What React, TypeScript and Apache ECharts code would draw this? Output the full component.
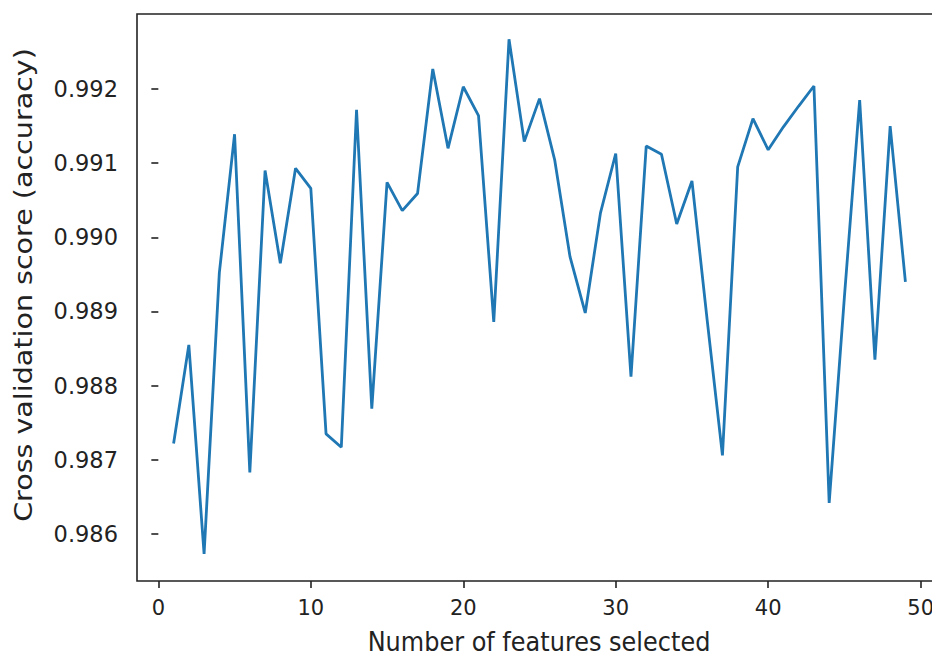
import React, { useEffect, useRef } from "react";
import * as echarts from "echarts";

const featureCounts: number[] = Array.from({ length: 49 }, (_, i) => i + 1);
const cvScores: number[] = [
  0.98722, 0.98855, 0.98573, 0.98952, 0.99139, 0.98683, 0.9909, 0.98965, 0.99093, 0.99066,
  0.98735, 0.98717, 0.99172, 0.98769, 0.99074, 0.99036, 0.99059, 0.99227, 0.9912, 0.99203,
  0.99164, 0.98886, 0.99267, 0.99129, 0.99187, 0.99104, 0.98974, 0.98898, 0.99033, 0.99113,
  0.98812, 0.99123, 0.99112, 0.99018, 0.99076, 0.98888, 0.98706, 0.99095, 0.9916, 0.99118,
  0.99149, 0.99177, 0.99204, 0.98642, 0.9892, 0.99185, 0.98835, 0.9915, 0.9894,
];
const xTicks: number[] = [0, 10, 20, 30, 40, 50];
const yTicks: number[] = [0.986, 0.987, 0.988, 0.989, 0.99, 0.991, 0.992];
const xTitle = "Number of features selected";
const yTitle = "Cross validation score (accuracy)";

const FONT = "DejaVu Sans";

export default function App() {
  const ref = useRef<HTMLDivElement>(null);
  useEffect(() => {
    if (!ref.current) return;
    const chart = echarts.init(ref.current, null, { renderer: "svg" });
    const data = featureCounts.map((x, i) => [x, cvScores[i]]);
    chart.setOption({
      animation: false,
      backgroundColor: "#ffffff",
      grid: {
        left: 137,
        top: 14,
        bottom: 78,
        right: -10,
        outerBoundsMode: "none",
        containLabel: false,
        show: true,
        borderColor: "#222",
        borderWidth: 1.6,
        backgroundColor: "transparent",
      },
      xAxis: {
        type: "value",
        min: -1.4,
        max: 51.4,
        axisLine: { show: false },
        splitLine: { show: false },
        axisTick: {
          show: true,
          length: 7,
          customValues: xTicks,
          lineStyle: { color: "#222", width: 1.6 },
        },
        axisLabel: {
          customValues: xTicks,
          margin: 16,
          fontFamily: FONT,
          fontSize: 21,
          color: "#222",
        },
      },
      yAxis: {
        type: "value",
        min: 0.985366,
        max: 0.993011,
        axisLine: { show: false },
        splitLine: { show: false },
        axisTick: {
          show: true,
          length: 7,
          customValues: yTicks,
          lineStyle: { color: "#222", width: 1.6 },
        },
        axisLabel: {
          customValues: yTicks,
          margin: 19,
          fontFamily: FONT,
          fontSize: 22.5,
          color: "#222",
          formatter: (v: number) => v.toFixed(3),
        },
      },
      graphic: [
        {
          type: "text",
          x: 539,
          y: 642,
          scaleY: 1.12,
          silent: true,
          style: {
            text: xTitle,
            fontFamily: FONT,
            fontSize: 24,
            fill: "#222",
            align: "center",
            verticalAlign: "middle",
          },
        },
        {
          type: "text",
          x: 24,
          y: 285,
          rotation: Math.PI / 2,
          scaleX: 1.19,
          silent: true,
          style: {
            text: yTitle,
            fontFamily: FONT,
            fontSize: 24,
            fill: "#222",
            align: "center",
            verticalAlign: "middle",
          },
        },
      ],
      series: [
        {
          type: "line",
          data,
          showSymbol: false,
          symbol: "none",
          lineStyle: { color: "#1f77b4", width: 2.8 },
        },
      ],
    });
    return () => chart.dispose();
  }, []);
  return <div ref={ref} style={{ width: 932, height: 659, position: "absolute", left: 0, top: 0 }} />;
}
